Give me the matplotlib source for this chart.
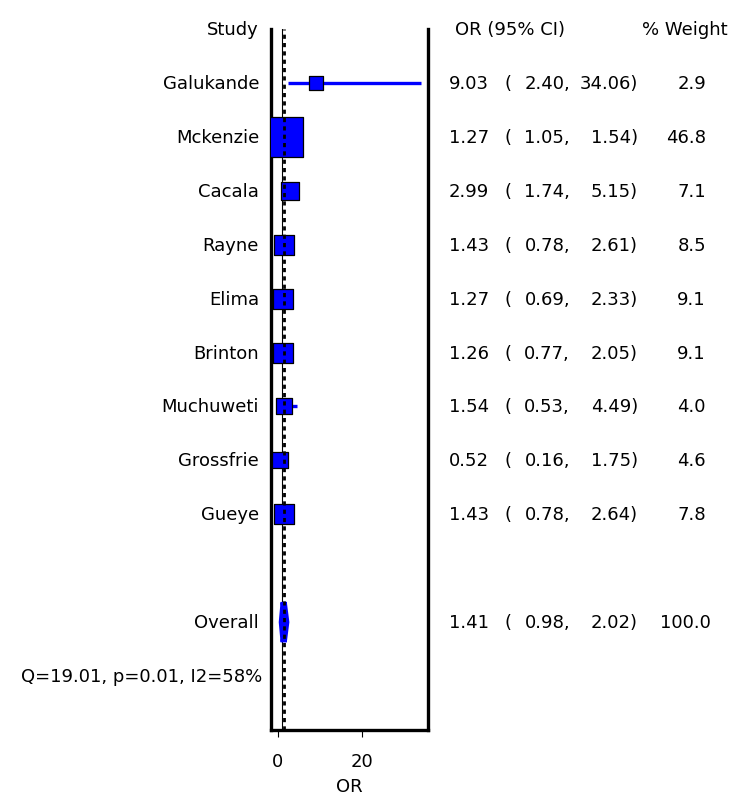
import matplotlib
matplotlib.use("Agg")
import matplotlib.pyplot as plt
import matplotlib.transforms as mtransforms
from matplotlib.patches import Polygon

plt.rcParams['font.family'] = ['DejaVu Sans']

studies = ["Galukande", "Mckenzie", "Cacala", "Rayne", "Elima",
           "Brinton", "Muchuweti", "Grossfrie", "Gueye"]
or_est = [9.03, 1.27, 2.99, 1.43, 1.27, 1.26, 1.54, 0.52, 1.43]
ci_low = [2.40, 1.05, 1.74, 0.78, 0.69, 0.77, 0.53, 0.16, 0.78]
ci_high = [34.06, 1.54, 5.15, 2.61, 2.33, 2.05, 4.49, 1.75, 2.64]
weights = [2.9, 46.8, 7.1, 8.5, 9.1, 9.1, 4.0, 4.6, 7.8]

overall_or = 1.41
overall_low = 0.98
overall_high = 2.02
het_text = "Q=19.01, p=0.01, I2=58%"
xticks = [0, 20]

W, H = 740, 804
fig = plt.figure(figsize=(W / 100, H / 100), dpi=100)
ax = fig.add_axes([271 / W, 1 - 731 / H, (428 - 271) / W, (731 - 30) / H])

rows = list(range(1, len(studies) + 1))
overall_row = len(studies) + 2
het_row = overall_row + 1

ax.set_xlim(-1.6, 35.7)
ax.set_ylim(13, 0)

# reference lines
ax.axvline(1, color='black', lw=0.8, zorder=1)
ax.axvline(overall_or, color='black', lw=2.0, ls=(0, (1.5, 1.5)), zorder=5)

# CI lines and weight squares
for y, est, lo, hi, w in zip(rows, or_est, ci_low, ci_high, weights):
    ax.plot([lo, hi], [y, y], color='#0000ff', lw=2.4, solid_capstyle='butt', zorder=2)
    side_px = 5.5 + 4.9 * w ** 0.5
    side_pt = side_px * 72 / 100
    ax.scatter([est], [y], marker='s', s=side_pt ** 2, color='#0000ff',
               edgecolors='black', linewidths=0.9, zorder=3)

# overall diamond
dh = 0.37
diamond = Polygon([[overall_low, overall_row], [overall_or, overall_row - dh],
                   [overall_high, overall_row], [overall_or, overall_row + dh]],
                  closed=True, facecolor='#0000ff', edgecolor='#0000ff', lw=4.5, zorder=3)
ax.add_patch(diamond)

for side in ['left', 'right', 'bottom']:
    ax.spines[side].set_linewidth(2.4)
ax.spines['top'].set_visible(False)
ax.set_yticks([])
ax.set_xticks(xticks)
ax.tick_params(axis='x', length=5, width=0.8, labelsize=13, pad=11)
ax.set_xlabel("OR", fontsize=13, labelpad=5)

trans = mtransforms.blended_transform_factory(fig.transFigure, ax.transData)
fs = 13
kw = dict(transform=trans, va='center', fontsize=fs, clip_on=False)

ax.text(259 / W, 0, "Study", ha='right', **kw)
ax.text(455 / W, 0, "OR (95% CI)", ha='left', **kw)
ax.text(728 / W, 0, "% Weight", ha='right', **kw)


def or_row(y, est, lo, hi, w, w_right):
    ax.text(449 / W, y, f"{est:.2f}", ha='left', **kw)
    ax.text(504 / W, y, "(", ha='left', **kw)
    ax.text(570 / W, y, f"{lo:.2f},", ha='right', **kw)
    ax.text(638 / W, y, f"{hi:.2f})", ha='right', **kw)
    ax.text(w_right / W, y, f"{w:.1f}", ha='right', **kw)


for y, name, est, lo, hi, w in zip(rows, studies, or_est, ci_low, ci_high, weights):
    ax.text(259 / W, y, name, ha='right', **kw)
    or_row(y, est, lo, hi, w, 706)

ax.text(259 / W, overall_row, "Overall", ha='right', **kw)
or_row(overall_row, overall_or, overall_low, overall_high, 100.0, 711)
ax.text(262 / W, het_row, het_text, ha='right', **kw)

fig.savefig("out.png", dpi=100)
